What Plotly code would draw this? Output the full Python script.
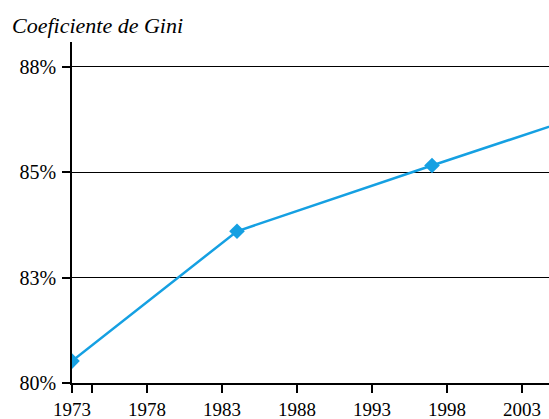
import plotly.graph_objects as go

years = [1973, 1984, 1997, 2006]
gini = [80.52, 83.60, 85.16, 86.22]

x_tick_vals = [1973, 1974.33, 1978, 1983, 1988, 1993, 1998, 2003]
x_tick_text = ["1973", "", "1978", "1983", "1988", "1993", "1998", "2003"]
y_tick_vals = [80, 82.5, 85, 87.5]
y_tick_text = ["80%", "83%", "85%", "88%"]

font_family = "Liberation Serif, DejaVu Serif, serif"

fig = go.Figure()
fig.add_trace(go.Scatter(
    x=years, y=gini, mode="lines+markers",
    line=dict(color="#15a0e2", width=2.5),
    marker=dict(symbol="diamond", size=12, color="#15a0e2"),
    cliponaxis=True, showlegend=False,
))

fig.update_layout(
    width=549, height=419,
    margin=dict(l=72, r=0, t=42, b=36),
    paper_bgcolor="white", plot_bgcolor="white",
    font=dict(family=font_family, size=19, color="black"),
    xaxis=dict(
        range=[1973, 2004.8], tickmode="array", tickvals=x_tick_vals, ticktext=x_tick_text,
        showgrid=False, zeroline=False, showline=True, linecolor="black", linewidth=1.5,
        ticks="outside", ticklen=8, tickcolor="black", tickwidth=1.5,
        tickfont=dict(size=19), ticklabelstandoff=0,
    ),
    yaxis=dict(
        range=[80, 88.09], tickmode="array", tickvals=y_tick_vals, ticktext=y_tick_text,
        showgrid=True, gridcolor="black", gridwidth=1.2, zeroline=False,
        showline=True, linecolor="black", linewidth=1.5,
        ticks="outside", ticklen=8, tickcolor="black", tickwidth=1.5,
        tickfont=dict(size=20), ticklabelstandoff=2,
    ),
    annotations=[dict(
        text="<i>Coeficiente de Gini</i>", xref="paper", yref="paper",
        x=-62/477, y=1 + 17/341, xanchor="left", yanchor="middle",
        showarrow=False, font=dict(size=22, family=font_family),
    )],
)

fig.write_html("out.html", config={"displayModeBar": False},
               post_script="document.body.style.margin='0';document.body.style.overflow='hidden';")
